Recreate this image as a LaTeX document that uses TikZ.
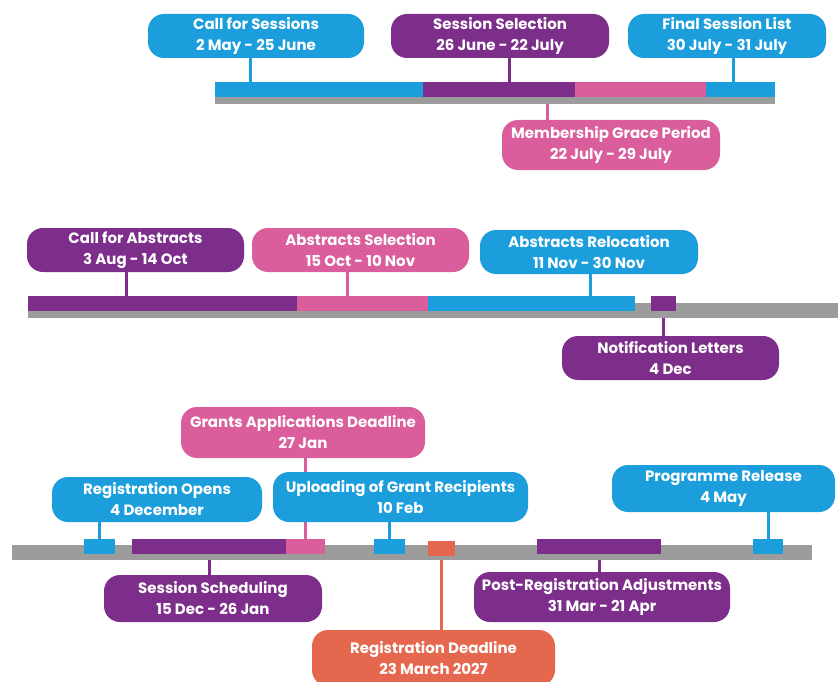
\documentclass[tikz,border=0pt]{standalone}
\usepackage{fontspec}
\setmainfont{Poppins}
\usetikzlibrary{backgrounds}

\definecolor{cblue}{RGB}{28,158,221}
\definecolor{cpurple}{RGB}{124,46,138}
\definecolor{cpink}{RGB}{217,94,155}
\definecolor{corange}{RGB}{229,103,77}
\definecolor{cgray}{RGB}{156,156,156}

\tikzset{
  box/.style={rounded corners=16pt, text=white, align=center, inner sep=0pt,
    font=\bfseries\fontsize{15}{21}\selectfont, minimum height=44pt},
  seg/.style={inner sep=0pt, minimum height=15pt},
  link/.style={line width=3pt},
}

\begin{document}
\begin{tikzpicture}[x=1pt,y=-1pt]
\useasboundingbox (0,0) rectangle (838,682);

% sessions
\node[seg, fill=cgray, minimum width=560] (base1) at (495,96.5) {};
\node[seg, fill=cblue, minimum width=208] (s11) at (319,89.5) {};
\node[seg, fill=cpurple, minimum width=152] (s12) at (499,89.5) {};
\node[seg, fill=cpink, minimum width=131] (s13) at (640.5,89.5) {};
\node[seg, fill=cblue, minimum width=69] (s14) at (740.5,89.5) {};

\node[box, fill=cblue, minimum width=216] (cfs) at (256,36) {Call for Sessions\\2 May - 25 June};
\node[box, fill=cpurple, minimum width=218] (sel) at (500,36) {Session Selection\\26 June - 22 July};
\node[box, fill=cblue, minimum width=198] (fin) at (727,36) {Final Session List\\30 July - 31 July};
\node[box, fill=cpink, minimum width=218, minimum height=50] (grace) at (611,145) {Membership Grace Period\\22 July - 29 July};

% abstracts
\node[seg, fill=cgray, minimum width=810] (base2) at (433,310.5) {};
\node[seg, fill=cpurple, minimum width=269] (s21) at (162.5,303.5) {};
\node[seg, fill=cpink, minimum width=131] (s22) at (362.5,303.5) {};
\node[seg, fill=cblue, minimum width=207] (s23) at (531.5,303.5) {};
\node[seg, fill=cpurple, minimum width=25] (s24) at (663.5,303.5) {};

\node[box, fill=cpurple, minimum width=217] (cfa) at (135.5,250) {Call for Abstracts\\3 Aug - 14 Oct};
\node[box, fill=cpink, minimum width=217] (asel) at (360.5,250) {Abstracts Selection\\15 Oct - 10 Nov};
\node[box, fill=cblue, minimum width=218] (areloc) at (589,252) {Abstracts Relocation\\11 Nov - 30 Nov};
\node[box, fill=cpurple, minimum width=217] (notif) at (670.5,358) {Notification Letters\\4 Dec};

% registration
\node[seg, fill=cgray, minimum width=800] (base3) at (412,552.5) {};
\node[seg, fill=cblue, minimum width=31] (s31) at (99.5,546.5) {};
\node[seg, fill=cpurple, minimum width=154] (s32) at (209,546.5) {};
\node[seg, fill=cpink, minimum width=39] (s33) at (305.5,546.5) {};
\node[seg, fill=cblue, minimum width=31] (s34) at (389.5,546.5) {};
\node[seg, fill=corange, minimum width=27] (s35) at (441.5,548.5) {};
\node[seg, fill=cpurple, minimum width=124] (s36) at (599,546.5) {};
\node[seg, fill=cblue, minimum width=30] (s37) at (768,546.5) {};

\node[box, fill=cpink, minimum width=244, minimum height=51] (grants) at (303,432.5) {Grants Applications Deadline\\27 Jan};
\node[box, fill=cblue, minimum width=210, minimum height=45] (regopen) at (157,499.5) {Registration Opens\\4 December};
\node[box, fill=cblue, minimum width=255, minimum height=50] (upload) at (400.5,497) {Uploading of Grant Recipients\\10 Feb};
\node[box, fill=cblue, minimum width=223, minimum height=47] (prog) at (723.5,488.5) {Programme Release\\4 May};
\node[box, fill=cpurple, minimum width=218, minimum height=47] (sched) at (213,598.5) {Session Scheduling\\15 Dec - 26 Jan};
\node[box, fill=cpurple, minimum width=256, minimum height=50] (postreg) at (602,597) {Post-Registration Adjustments\\31 Mar - 21 Apr};
\node[box, fill=corange, minimum width=243, minimum height=56] (regdl) at (433.5,658) {Registration Deadline\\23 March 2027};

\begin{pgfonlayer}{background}
  \draw[link, cblue] ([xshift=-6pt]cfs.south) -- ([xshift=-6pt]cfs.south |- s11.north);
  \draw[link, cpurple] ([xshift=9pt]sel.south) -- ([xshift=9pt]sel.south |- s12.north);
  \draw[link, cblue] ([xshift=6pt]fin.south) -- ([xshift=6pt]fin.south |- s14.north);
  \draw[link, cpink] ([xshift=-64pt]grace.north) -- ([xshift=-64pt]grace.north |- base1.south);

  \draw[link, cpurple] ([xshift=-9.5pt]cfa.south) -- ([xshift=-9.5pt]cfa.south |- s21.north);
  \draw[link, cpink] ([xshift=-13.5pt]asel.south) -- ([xshift=-13.5pt]asel.south |- s22.north);
  \draw[link, cblue] ([xshift=1pt]areloc.south) -- ([xshift=1pt]areloc.south |- s23.north);
  \draw[link, cpurple] (s24.south) -- (s24.south |- notif.north);

  \draw[link, cpink] (s33.north) -- (s33.north |- grants.south);
  \draw[link, cblue] (s31.north) -- (s31.north |- regopen.south);
  \draw[link, cblue] (s34.north) -- (s34.north |- upload.south);
  \draw[link, cblue] (s37.north) -- (s37.north |- prog.south);
  \draw[link, cpurple] (s32.south) -- (s32.south |- sched.north);
  \draw[link, cpurple] (s36.south) -- (s36.south |- postreg.north);
  \draw[link, corange] (s35.south) -- (s35.south |- regdl.north);
\end{pgfonlayer}
\end{tikzpicture}
\end{document}
